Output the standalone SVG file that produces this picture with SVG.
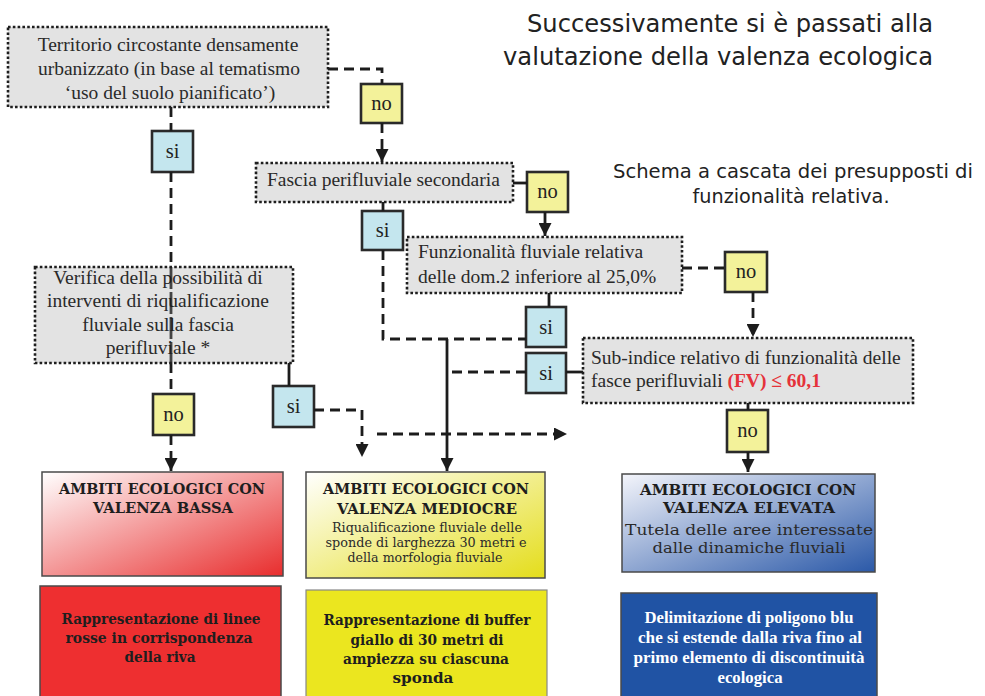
<svg xmlns="http://www.w3.org/2000/svg" width="985" height="696" viewBox="0 0 985 696">
<style>
.q{fill:#e3e3e3;stroke:#1e1e1e;stroke-width:2.6;stroke-dasharray:2.6 2.2}
.t{font-family:"Liberation Serif","Times New Roman",serif;font-size:19.5px;fill:#2a2a2a}
.yn{stroke:#2a2a2a;stroke-width:2.6}
.no{fill:#f3f29a}
.si{fill:#c4e6ee}
.lb{font-family:"Liberation Serif","Times New Roman",serif;font-size:20.5px;fill:#222;text-anchor:middle}
.c{fill:none;stroke:#1c1c1c;stroke-width:2.8}
.d{stroke-dasharray:10 6}
.hd{font-family:"DejaVu Sans",Verdana,sans-serif;fill:#222;text-anchor:middle}
.bb{font-family:"DejaVu Serif",serif;font-weight:bold;font-size:14.5px;fill:#1e1e1e;text-anchor:middle}
.br{font-family:"DejaVu Serif",serif;fill:#2a2a2a;text-anchor:middle}
.bt{font-family:"Liberation Serif","Times New Roman",serif;font-weight:bold;font-size:16.5px;fill:#fff;text-anchor:middle}
.ob{stroke:#4a4a4a;stroke-width:1.5}
</style>
<defs>
<marker id="arr" viewBox="0 0 10 10" refX="10" refY="5" markerWidth="13" markerHeight="13" markerUnits="userSpaceOnUse" orient="auto">
<path d="M0,0 L10,5 L0,10 z" fill="#1c1c1c"/>
</marker>
<linearGradient id="gR" x1="0" y1="0" x2="1" y2="1">
<stop offset="0" stop-color="#ffffff"/><stop offset="1" stop-color="#e82d2d"/>
</linearGradient>
<linearGradient id="gY" x1="0" y1="0" x2="1" y2="1">
<stop offset="0" stop-color="#ffffff"/><stop offset="1" stop-color="#e4dd1a"/>
</linearGradient>
<linearGradient id="gB" x1="0" y1="0" x2="1" y2="1">
<stop offset="0" stop-color="#f4f5fb"/><stop offset="1" stop-color="#2b59a8"/>
</linearGradient>
</defs>

<g id="title">
<text class="hd" font-size="25" x="730" y="32" textLength="406" lengthAdjust="spacingAndGlyphs">Successivamente si è passati alla</text>
<text class="hd" font-size="25" x="718" y="65" textLength="430" lengthAdjust="spacingAndGlyphs">valutazione della valenza ecologica</text>
</g>
<g id="subtitle">
<text class="hd" font-size="19.5" x="793" y="178" textLength="360" lengthAdjust="spacingAndGlyphs">Schema a cascata dei presupposti di</text>
<text class="hd" font-size="19.5" x="791" y="203" textLength="197" lengthAdjust="spacingAndGlyphs">funzionalità relativa.</text>
</g>

<g id="n-territorio">
<rect class="q" x="8" y="27" width="320" height="80"/>
<text class="t" text-anchor="middle"><tspan x="168" y="51">Territorio circostante densamente</tspan><tspan x="169" y="75">urbanizzato (in base al tematismo</tspan><tspan x="170" y="99">‘uso del suolo pianificato’)</tspan></text>
</g>
<g id="n-fascia">
<rect class="q" x="256" y="163" width="257" height="39"/>
<text class="t" x="267" y="186">Fascia perifluviale secondaria</text>
</g>
<g id="n-funz">
<rect class="q" x="407" y="237" width="275" height="56"/>
<text class="t"><tspan x="418" y="258">Funzionalità fluviale relativa</tspan><tspan x="418" y="283">delle dom.2 inferiore al 25,0%</tspan></text>
</g>
<g id="n-subindice">
<rect class="q" x="583" y="338" width="330" height="65"/>
<text class="t"><tspan x="591" y="364">Sub-indice relativo di funzionalità delle</tspan><tspan x="591" y="387">fasce perifluviali <tspan font-weight="bold" fill="#e5323a">(FV) ≤ 60,1</tspan></tspan></text>
</g>
<g id="n-verifica">
<rect class="q" x="35" y="267" width="258" height="96"/>
<text class="t" text-anchor="middle"><tspan x="158" y="284">Verifica della possibilità di</tspan><tspan x="158" y="307">interventi di riqualificazione</tspan><tspan x="158" y="331">fluviale sulla fascia</tspan><tspan x="158" y="354">perifluviale *</tspan></text>
</g>

<g id="no1"><rect class="yn no" x="361" y="84" width="41" height="39"/><text class="lb" x="381.5" y="110">no</text></g>
<g id="si1"><rect class="yn si" x="152" y="131" width="41" height="41"/><text class="lb" x="172.5" y="158">si</text></g>
<g id="no2"><rect class="yn no" x="527" y="172" width="41" height="40"/><text class="lb" x="547.5" y="198">no</text></g>
<g id="si2"><rect class="yn si" x="362" y="211" width="41" height="39"/><text class="lb" x="382.5" y="237">si</text></g>
<g id="no3"><rect class="yn no" x="725" y="252" width="42" height="40"/><text class="lb" x="746" y="278">no</text></g>
<g id="si3"><rect class="yn si" x="526" y="307" width="40" height="40"/><text class="lb" x="546" y="334">si</text></g>
<g id="si4"><rect class="yn si" x="526" y="353" width="40" height="40"/><text class="lb" x="546" y="380">si</text></g>
<g id="no4"><rect class="yn no" x="727" y="410" width="41" height="42"/><text class="lb" x="747.5" y="437">no</text></g>
<g id="no5"><rect class="yn no" x="153" y="394" width="41" height="41"/><text class="lb" x="173.5" y="421">no</text></g>
<g id="si5"><rect class="yn si" x="273" y="386" width="41" height="41"/><text class="lb" x="293.5" y="413">si</text></g>

<g id="n-bassa">
<rect class="ob" x="42" y="472" width="241" height="104" fill="url(#gR)"/>
<text class="bb"><tspan x="162" y="494" textLength="206" lengthAdjust="spacingAndGlyphs">AMBITI ECOLOGICI CON</tspan><tspan x="163" y="513" textLength="140" lengthAdjust="spacingAndGlyphs">VALENZA BASSA</tspan></text>
</g>
<g id="n-mediocre">
<rect class="ob" x="306" y="472" width="239" height="106" fill="url(#gY)" stroke="#666"/>
<text class="bb"><tspan x="426" y="494" textLength="206" lengthAdjust="spacingAndGlyphs">AMBITI ECOLOGICI CON</tspan><tspan x="427" y="514" textLength="180" lengthAdjust="spacingAndGlyphs">VALENZA MEDIOCRE</tspan></text>
<text class="br" font-size="12.5"><tspan x="427" y="532" textLength="190" lengthAdjust="spacingAndGlyphs">Riqualificazione fluviale delle</tspan><tspan x="426" y="547" textLength="201" lengthAdjust="spacingAndGlyphs">sponde di larghezza 30 metri e</tspan><tspan x="425" y="562" textLength="155" lengthAdjust="spacingAndGlyphs">della morfologia fluviale</tspan></text>
</g>
<g id="n-elevata">
<rect class="ob" x="622" y="474" width="253" height="98" fill="url(#gB)"/>
<text class="bb"><tspan x="748" y="495" textLength="216" lengthAdjust="spacingAndGlyphs">AMBITI ECOLOGICI CON</tspan><tspan x="749" y="513" textLength="172" lengthAdjust="spacingAndGlyphs">VALENZA ELEVATA</tspan></text>
<text class="br" font-size="14.5"><tspan x="749" y="535" textLength="248" lengthAdjust="spacingAndGlyphs">Tutela delle aree interessate</tspan><tspan x="749" y="553" textLength="193" lengthAdjust="spacingAndGlyphs">dalle dinamiche fluviali</tspan></text>
</g>

<g id="n-rosso">
<rect class="ob" x="40" y="586" width="241" height="120" fill="#ee2f30"/>
<text class="bb" font-size="14"><tspan x="161" y="624" textLength="199" lengthAdjust="spacingAndGlyphs">Rappresentazione di linee</tspan><tspan x="159" y="643" textLength="187" lengthAdjust="spacingAndGlyphs">rosse in corrispondenza</tspan><tspan x="160" y="662" textLength="71" lengthAdjust="spacingAndGlyphs">della riva</tspan></text>
</g>
<g id="n-giallo">
<rect x="306" y="590" width="241" height="120" fill="#ebe61f" stroke="#888" stroke-width="1.2"/>
<text class="bb" font-size="14"><tspan x="427" y="625" textLength="207" lengthAdjust="spacingAndGlyphs">Rappresentazione di buffer</tspan><tspan x="427" y="645" textLength="153" lengthAdjust="spacingAndGlyphs">giallo di 30 metri di</tspan><tspan x="426" y="664" textLength="166" lengthAdjust="spacingAndGlyphs">ampiezza su ciascuna</tspan><tspan x="423" y="683" textLength="61" lengthAdjust="spacingAndGlyphs">sponda</tspan></text>
</g>
<g id="n-blu">
<rect class="ob" x="621" y="593" width="256" height="120" fill="#2053a4"/>
<text class="bt"><tspan x="749" y="623" textLength="209" lengthAdjust="spacingAndGlyphs">Delimitazione di poligono blu</tspan><tspan x="750" y="643" textLength="224" lengthAdjust="spacingAndGlyphs">che si estende dalla riva fino al</tspan><tspan x="749" y="663" textLength="231" lengthAdjust="spacingAndGlyphs">primo elemento di discontinuità</tspan><tspan x="750" y="683" textLength="65" lengthAdjust="spacingAndGlyphs">ecologica</tspan></text>
</g>

<g id="connectors">
<path class="c d" d="M328,69 H382 V84"/>
<path class="c d" d="M382,123 V162" marker-end="url(#arr)"/>
<path class="c d" d="M171,107 V131"/>
<path class="c d" d="M171,172 V267"/>
<path class="c" d="M171,267 V363" stroke="#7a7a7a" stroke-width="2" stroke-dasharray="22 3" opacity="0.8"/>
<path class="c d" d="M171,363 V394"/>
<path class="c d" d="M171,435 V471" marker-end="url(#arr)"/>
<path class="c" d="M513,183 H527"/>
<path class="c" d="M545,212 V236" marker-end="url(#arr)"/>
<path class="c" d="M383,202 V211"/>
<path class="c d" d="M383,250 V339 H526"/>
<path class="c" d="M549,293 V307"/>
<path class="c" d="M447,339 V471" marker-end="url(#arr)"/>
<path class="c d" d="M526,372 H449"/>
<path class="c" d="M566,372 H583"/>
<path class="c d" d="M682,268 H725"/>
<path class="c d" d="M753,292 V337" marker-end="url(#arr)"/>
<path class="c" d="M748,403 V410"/>
<path class="c" d="M748,452 V472" marker-end="url(#arr)"/>
<path class="c" d="M289,363 V386"/>
<path class="c d" d="M314,410 H362 V457" marker-end="url(#arr)"/>
<path class="c d" d="M377,434 H567" marker-end="url(#arr)"/>
</g>
</svg>
